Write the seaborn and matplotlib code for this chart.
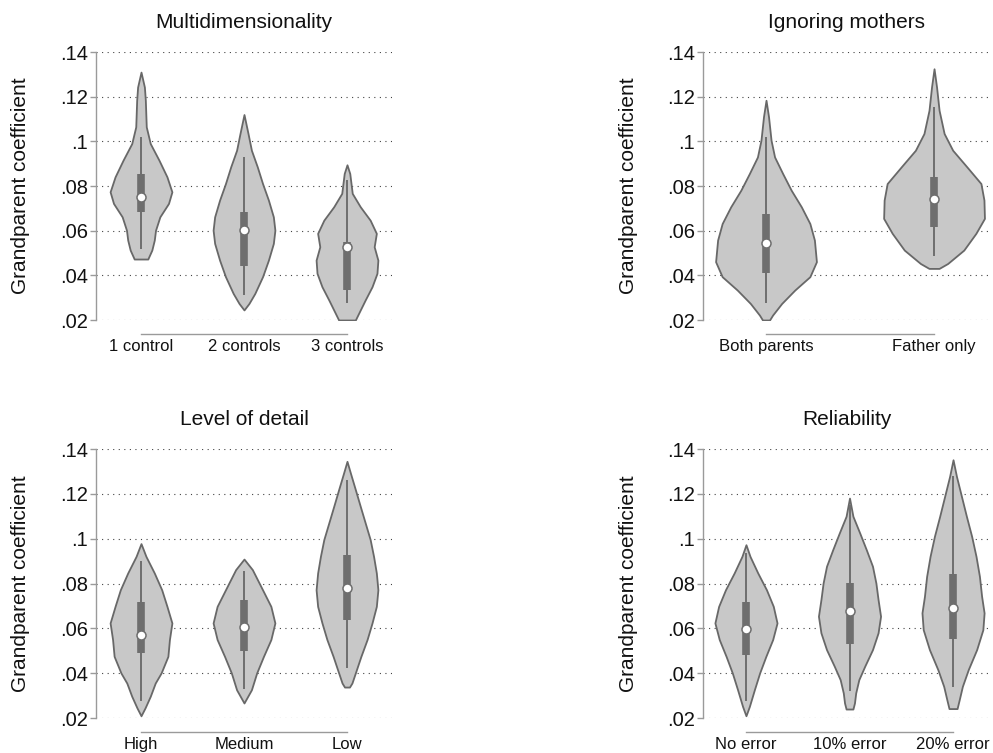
import numpy as np
import matplotlib
matplotlib.use("Agg")
import matplotlib.pyplot as plt
import seaborn as sns

sns.set_style("white")
plt.rcParams["font.family"] = ["Liberation Sans", "DejaVu Sans"]

# y axis shared by all panels
ylab = "Grandparent coefficient"
yticks = [0.02, 0.04, 0.06, 0.08, 0.10, 0.12, 0.14]
ytick_labels = [".02", ".04", ".06", ".08", ".1", ".12", ".14"]

# panel 1: Multidimensionality
multi_title = "Multidimensionality"
multi_cats = ["1 control", "2 controls", "3 controls"]
ctrl1_y = [0.131, 0.1243, 0.1184, 0.1065, 0.099, 0.0916, 0.0841, 0.0774, 0.0722, 0.0662, 0.0602, 0.0558, 0.0513, 0.0473]
ctrl1_w = [0.0, 0.11, 0.14, 0.17, 0.30, 0.58, 0.84, 1.0, 0.89, 0.61, 0.47, 0.43, 0.35, 0.22]
ctrl2_y = [0.112, 0.1035, 0.096, 0.0886, 0.0811, 0.0737, 0.0662, 0.0602, 0.0543, 0.0468, 0.0394, 0.0319, 0.0274, 0.0245]
ctrl2_w = [0.0, 0.13, 0.24, 0.43, 0.60, 0.79, 0.95, 1.0, 0.95, 0.79, 0.60, 0.35, 0.16, 0.0]
ctrl3_y = [0.0895, 0.0856, 0.0767, 0.0707, 0.0647, 0.0588, 0.0528, 0.0468, 0.0409, 0.0349, 0.029, 0.0231, 0.020]
ctrl3_w = [0.0, 0.09, 0.17, 0.43, 0.75, 0.95, 0.88, 1.0, 0.97, 0.81, 0.59, 0.38, 0.27]
multi_q1 = [0.0684, 0.0441, 0.0334]
multi_med = [0.0749, 0.0602, 0.0528]
multi_q3 = [0.0853, 0.0684, 0.0550]
multi_lo = [0.052, 0.0312, 0.0275]
multi_hi = [0.102, 0.093, 0.0826]

# panel 2: Ignoring mothers
moth_title = "Ignoring mothers"
moth_cats = ["Both parents", "Father only"]
both_y = [0.1184, 0.111, 0.1005, 0.093, 0.0856, 0.0781, 0.0707, 0.0632, 0.0558, 0.0461, 0.0394, 0.0334, 0.0274, 0.0222, 0.0200]
both_w = [0.0, 0.05, 0.10, 0.17, 0.33, 0.50, 0.70, 0.87, 0.96, 1.0, 0.87, 0.57, 0.31, 0.13, 0.07]
father_y = [0.1325, 0.1243, 0.1139, 0.1035, 0.096, 0.0886, 0.0811, 0.0737, 0.0655, 0.0588, 0.0513, 0.0453, 0.0431]
father_w = [0.0, 0.05, 0.10, 0.20, 0.37, 0.65, 0.93, 0.99, 1.0, 0.83, 0.59, 0.27, 0.10]
moth_q1 = [0.0409, 0.0615]
moth_med = [0.0546, 0.0741]
moth_q3 = [0.0674, 0.0841]
moth_lo = [0.0274, 0.0486]
moth_hi = [0.102, 0.1154]

# panel 3: Level of detail
detail_title = "Level of detail"
detail_cats = ["High", "Medium", "Low"]
high_y = [0.0978, 0.0921, 0.0847, 0.0772, 0.0698, 0.0624, 0.055, 0.0475, 0.0401, 0.0356, 0.0297, 0.0245, 0.021]
high_w = [0.0, 0.16, 0.43, 0.67, 0.84, 1.0, 0.92, 0.87, 0.65, 0.46, 0.30, 0.13, 0.0]
medium_y = [0.0909, 0.0862, 0.0772, 0.0698, 0.0624, 0.055, 0.0475, 0.0401, 0.0326, 0.0267]
medium_w = [0.0, 0.27, 0.60, 0.87, 1.0, 0.87, 0.63, 0.41, 0.24, 0.0]
low_y = [0.1345, 0.1293, 0.1219, 0.1144, 0.107, 0.0996, 0.0921, 0.0847, 0.0772, 0.0698, 0.0624, 0.055, 0.0475, 0.0401, 0.0356, 0.0338]
low_w = [0.0, 0.11, 0.27, 0.43, 0.59, 0.75, 0.86, 0.95, 1.0, 0.95, 0.81, 0.65, 0.45, 0.27, 0.16, 0.08]
detail_q1 = [0.0490, 0.0497, 0.0639]
detail_med = [0.0572, 0.0604, 0.0780]
detail_q3 = [0.0717, 0.0725, 0.0929]
detail_lo = [0.0274, 0.0329, 0.0423]
detail_hi = [0.0902, 0.0854, 0.1263]

# panel 4: Reliability
rel_title = "Reliability"
rel_cats = ["No error", "10% error", "20% error"]
err0_y = [0.0973, 0.0921, 0.0847, 0.0772, 0.0698, 0.0624, 0.055, 0.0475, 0.0401, 0.0326, 0.0252, 0.021]
err0_w = [0.0, 0.13, 0.38, 0.66, 0.88, 1.0, 0.86, 0.64, 0.44, 0.27, 0.11, 0.0]
err10_y = [0.1181, 0.110, 0.1025, 0.0951, 0.0877, 0.0802, 0.0728, 0.0654, 0.058, 0.0505, 0.0431, 0.0371, 0.0312, 0.0267, 0.024]
err10_w = [0.0, 0.11, 0.33, 0.54, 0.74, 0.85, 0.92, 1.0, 0.92, 0.74, 0.49, 0.30, 0.20, 0.16, 0.11]
err20_y = [0.1352, 0.1278, 0.1189, 0.110, 0.101, 0.0921, 0.0832, 0.0743, 0.0669, 0.0594, 0.0505, 0.0416, 0.0341, 0.0282, 0.0242]
err20_w = [0.0, 0.11, 0.27, 0.43, 0.60, 0.74, 0.85, 0.92, 1.0, 0.96, 0.76, 0.49, 0.30, 0.20, 0.13]
rel_q1 = [0.0483, 0.0532, 0.0552]
rel_med = [0.0599, 0.0676, 0.0689]
rel_q3 = [0.0719, 0.0802, 0.0842]
rel_lo = [0.0274, 0.0319, 0.0337]
rel_hi = [0.0936, 0.1152, 0.1278]

FILL = "#c8c8c8"
EDGE = "#686868"
BOX = "#6e6e6e"
AXC = "#9a9a9a"
HALF = 0.3

W, H = 993, 753
fig = plt.figure(figsize=(W / 100, H / 100), dpi=100)

panels = [
    dict(title=multi_title, cats=multi_cats, shapes=[(ctrl1_y, ctrl1_w), (ctrl2_y, ctrl2_w), (ctrl3_y, ctrl3_w)],
         q1=multi_q1, med=multi_med, q3=multi_q3, lo=multi_lo, hi=multi_hi,
         rect=(96, 52, 296, 268), xlim=(-0.437, 2.437)),
    dict(title=moth_title, cats=moth_cats, shapes=[(both_y, both_w), (father_y, father_w)],
         q1=moth_q1, med=moth_med, q3=moth_q3, lo=moth_lo, hi=moth_hi,
         rect=(703, 52, 287, 268), xlim=(-0.375, 1.333)),
    dict(title=detail_title, cats=detail_cats, shapes=[(high_y, high_w), (medium_y, medium_w), (low_y, low_w)],
         q1=detail_q1, med=detail_med, q3=detail_q3, lo=detail_lo, hi=detail_hi,
         rect=(96, 449, 296, 269), xlim=(-0.437, 2.437)),
    dict(title=rel_title, cats=rel_cats, shapes=[(err0_y, err0_w), (err10_y, err10_w), (err20_y, err20_w)],
         q1=rel_q1, med=rel_med, q3=rel_q3, lo=rel_lo, hi=rel_hi,
         rect=(703, 449, 287, 269), xlim=(-0.415, 2.357)),
]

for p in panels:
    x0, y0, w, h = p["rect"]
    ax = fig.add_axes([x0 / W, 1 - (y0 + h) / H, w / W, h / H])

    for i, (ys, ws) in enumerate(p["shapes"]):
        ys = np.asarray(ys)
        ws = np.asarray(ws) * HALF
        ax.fill_betweenx(ys, i - ws, i + ws, facecolor=FILL, edgecolor=EDGE,
                         lw=1.3, zorder=2, joinstyle="round")
        ax.plot([i, i], [p["lo"][i], p["hi"][i]], color=BOX, lw=1.4, zorder=3,
                solid_capstyle="butt")
        ax.plot([i, i], [p["q1"][i], p["q3"][i]], color=BOX, lw=5.5, zorder=3,
                solid_capstyle="butt")
        ax.plot(i, p["med"][i], "o", ms=6.5, mfc="white", mec=BOX, mew=1.1, zorder=4)

    ax.set_xlim(*p["xlim"])
    ax.set_ylim(0.02, 0.14)
    ax.set_yticks(yticks)
    ax.set_yticklabels(ytick_labels)
    ax.set_xticks(range(len(p["cats"])))
    ax.set_xticklabels(p["cats"])
    ax.yaxis.grid(True, linestyle=(0, (1, 4)), color="#444444", lw=0.8)
    ax.set_axisbelow(True)

    sns.despine(ax=ax, offset={"bottom": 10, "left": 0})
    ax.spines["bottom"].set_bounds(0, len(p["cats"]) - 1)
    for s in ("left", "bottom"):
        ax.spines[s].set_color(AXC)
        ax.spines[s].set_linewidth(1.0)
    ax.tick_params(axis="y", left=True, length=4, width=1, color=AXC,
                   labelsize=14.5, pad=2, labelcolor="#111111")
    ax.tick_params(axis="x", bottom=False, length=0, labelsize=12, pad=4,
                   labelcolor="#111111")

    ax.set_title(p["title"], fontsize=15, pad=17, color="#111111")
    ax.set_ylabel(ylab, fontsize=15, va="center", color="#111111")
    ax.yaxis.set_label_coords(-75 / w, 0.5)

fig.savefig("out.png", dpi=100)
